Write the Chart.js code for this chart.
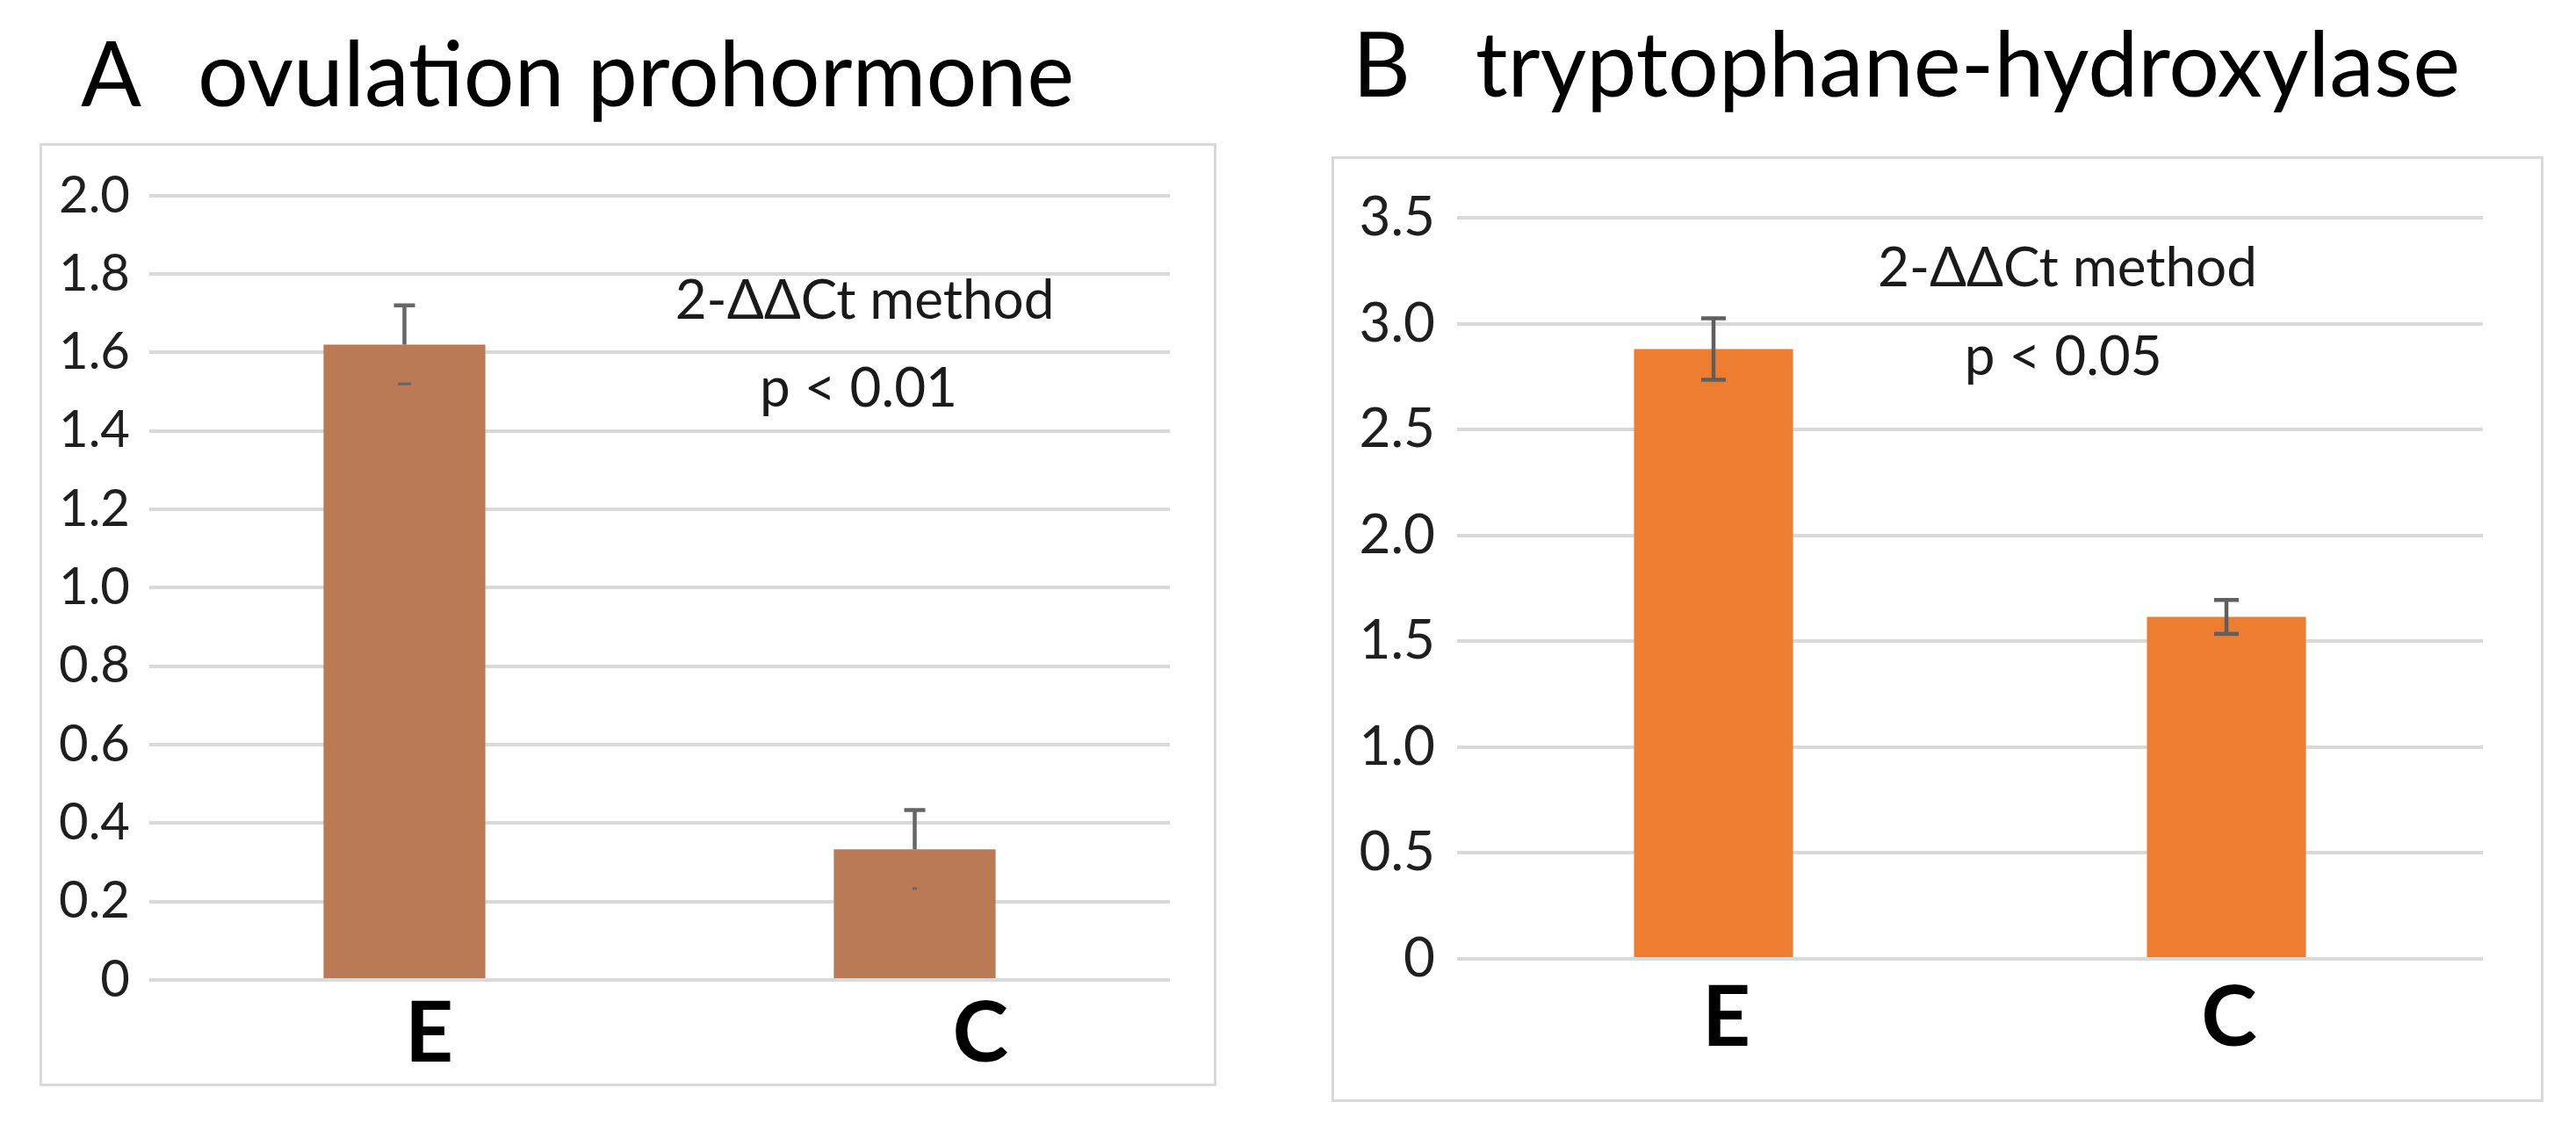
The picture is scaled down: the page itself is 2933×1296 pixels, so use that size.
<!DOCTYPE html>
<html>
<head>
<meta charset="utf-8">
<script src="https://cdn.jsdelivr.net/npm/chart.js@4.4.1/dist/chart.umd.min.js"></script>
<style>
    html, body { margin: 0; padding: 0; background: #fff; }
    #page { position: relative; width: 2933px; height: 1296px; overflow: hidden; font-family: Lato, "Open Sans", sans-serif; color: #000; }
    .title { position: absolute; font-size: 102px; line-height: 100px; white-space: nowrap; }
    .box { position: absolute; box-sizing: border-box; border: 3px solid #d9d9d9; }
    .box canvas { display: block; }
</style>
</head>
<body>
<div id="page">
    <div class="title" style="left:92px; top:32px;">A</div>
    <div class="title" style="left:225px; top:32px;">ovulation prohormone</div>
    <div class="box" style="left:45px; top:163px; width:1340px; height:1074px;">
        <canvas id="chartA" width="1334" height="1068"></canvas>
    </div>

    <div class="title" style="left:1540px; top:21px;">B</div>
    <div class="title" style="left:1680px; top:21px;">tryptophane-hydroxylase</div>
    <div class="box" style="left:1516px; top:178px; width:1380px; height:1077px;">
        <canvas id="chartB" width="1374" height="1071"></canvas>
    </div>
</div>

<script>
// data
const categories = ["E", "C"];

const ovulationMeans = [1.62, 0.333];
const ovulationErrors = [0.10, 0.10];
const ovulationTicks = { min: 0, max: 2.0, step: 0.2 };
const ovulationNotes = ["2-ΔΔCt method", "p < 0.01"];

const tphMeans = [2.88, 1.615];
const tphErrors = [0.145, 0.08];
const tphTicks = { min: 0, max: 3.5, step: 0.5 };
const tphNotes = ["2-ΔΔCt method", "p < 0.05"];

// error bars drawn on top of the bars
const errorBarPlugin = {
    id: "errorBars",
    afterDatasetsDraw(chart, args, opts) {
        const ctx = chart.ctx;
        const yScale = chart.scales.y;
        const values = chart.data.datasets[0].data;
        chart.getDatasetMeta(0).data.forEach(function(bar, i) {
            const v = values[i];
            const e = opts.errors[i];
            const yTop = yScale.getPixelForValue(v + e);
            const yBar = yScale.getPixelForValue(v);
            const yLow = yScale.getPixelForValue(v - e);
            const x = bar.x;
            ctx.save();
            ctx.strokeStyle = opts.color;
            ctx.lineWidth = opts.lineWidth;
            ctx.lineCap = "butt";
            ctx.beginPath();
            ctx.moveTo(x, opts.fullLower ? yLow : yBar);
            ctx.lineTo(x, yTop);
            ctx.moveTo(x - opts.capWidth / 2, yTop);
            ctx.lineTo(x + opts.capWidth / 2, yTop);
            ctx.stroke();
            // lower cap
            ctx.beginPath();
            const lw = opts.fullLower ? opts.capWidth : opts.stubWidth[i];
            ctx.lineWidth = opts.fullLower ? opts.lineWidth : 3;
            ctx.moveTo(x - lw / 2, yLow);
            ctx.lineTo(x + lw / 2, yLow);
            ctx.stroke();
            ctx.restore();
        });
    }
};

// the two lines of text inside each plot
const notesPlugin = {
    id: "notes",
    afterDraw(chart, args, opts) {
        const ctx = chart.ctx;
        const area = chart.chartArea;
        const yScale = chart.scales.y;
        ctx.save();
        ctx.font = opts.font;
        ctx.fillStyle = "#1a1a1a";
        ctx.textAlign = "center";
        ctx.textBaseline = "alphabetic";
        opts.lines.forEach(function(line, i) {
            const x = area.left + opts.xFrac[i] * (area.right - area.left);
            const y = yScale.getPixelForValue(opts.yAt[i]);
            ctx.fillText(line, x, y);
        });
        ctx.restore();
    }
};

function tickText(v) {
    return v === 0 ? "0" : v.toFixed(1);
}

function makeChart(id, cfg) {
    return new Chart(document.getElementById(id).getContext("2d"), {
        type: "bar",
        data: {
            labels: categories,
            datasets: [{
                data: cfg.values,
                backgroundColor: cfg.color,
                borderWidth: 0,
                categoryPercentage: 1.0,
                barPercentage: cfg.barPct
            }]
        },
        options: {
            responsive: false,
            animation: false,
            layout: { padding: cfg.padding },
            scales: {
                x: {
                    grid: { display: false },
                    border: { display: false },
                    ticks: {
                        color: "#000",
                        font: { family: "Lato", size: 96, weight: "bold", lineHeight: 1 },
                        padding: cfg.xPad,
                        labelOffset: cfg.labelOffset,
                        maxRotation: 0,
                        callback: function(v, i) { return " ".repeat(cfg.labelSpaces[i]) + categories[i]; }
                    },
                    afterFit: function(s) { s.height = cfg.xHeight; }
                },
                y: {
                    min: cfg.ticks.min,
                    max: cfg.ticks.max,
                    grid: { color: "#d9d9d9", lineWidth: 4, drawTicks: false },
                    border: { display: false },
                    ticks: {
                        stepSize: cfg.ticks.step,
                        color: "#1f1f1f",
                        font: { family: "Lato", size: cfg.tickSize },
                        padding: cfg.yPad,
                        callback: tickText
                    },
                    afterFit: function(s) { s.width = cfg.yWidth; }
                }
            },
            plugins: {
                legend: { display: false },
                tooltip: { enabled: false },
                errorBars: cfg.errorOpts,
                notes: cfg.notesOpts
            }
        },
        plugins: [errorBarPlugin, notesPlugin]
    });
}

makeChart("chartA", {
    values: ovulationMeans,
    color: "#b97a55",
    barPct: 0.317,
    padding: { top: 56, right: 50, left: 0, bottom: 0 },
    xHeight: 118,
    xPad: 6,
    labelOffset: 28,
    labelSpaces: [0, 4],
    yWidth: 122,
    yPad: 22,
    tickSize: 58,
    ticks: ovulationTicks,
    errorOpts: { errors: ovulationErrors, color: "#666666", lineWidth: 4.5, capWidth: 24, fullLower: false, stubWidth: [15, 5] },
    notesOpts: { lines: ovulationNotes, font: "62px Lato", xFrac: [0.701, 0.695], yAt: [1.685, 1.463] }
});

makeChart("chartB", {
    values: tphMeans,
    color: "#ed7d31",
    barPct: 0.31,
    padding: { top: 67, right: 66, left: 0, bottom: 0 },
    xHeight: 160,
    xPad: 12,
    labelOffset: 3,
    labelSpaces: [1, 0],
    yWidth: 140,
    yPad: 25,
    tickSize: 62,
    ticks: tphTicks,
    errorOpts: { errors: tphErrors, color: "#5f5f5f", lineWidth: 4.5, capWidth: 28, fullLower: true },
    notesOpts: { lines: tphNotes, font: "62px Lato", xFrac: [0.595, 0.591], yAt: [3.177, 2.758] }
});
</script>
</body>
</html>
